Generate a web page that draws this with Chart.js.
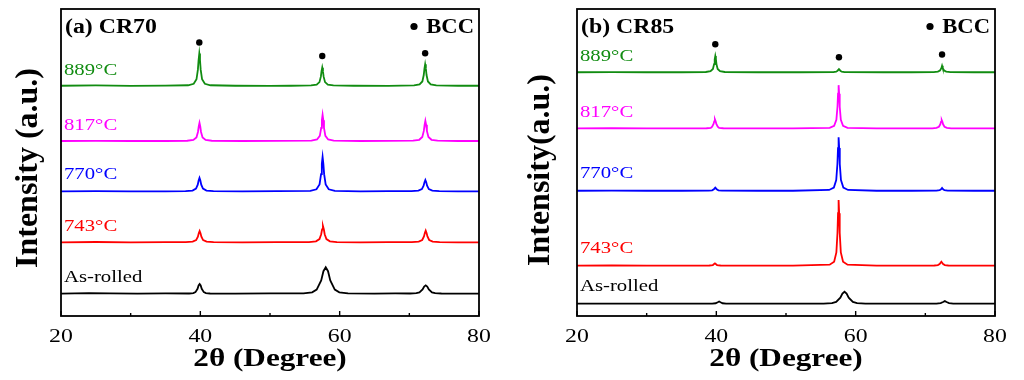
<!DOCTYPE html>
<html>
<head>
<meta charset="utf-8">
<script src="https://cdn.jsdelivr.net/npm/chart.js@4"></script>
<style>
  html, body { margin: 0; padding: 0; background: #fff; }
  #wrap { position: relative; width: 1024px; height: 380px; overflow: hidden; }
  .pane { position: absolute; top: 0; width: 512px; height: 380px; }
</style>
</head>
<body>
<div id="wrap">
  <div class="pane" style="left:0"><canvas id="c1" width="512" height="380"></canvas></div>
  <div class="pane" style="left:512px"><canvas id="c2" width="512" height="380"></canvas></div>
</div>
<script>
// ---------- DATA (2θ in degrees, intensity in stacked arbitrary units) ----------
const X_TICKS = [20, 40, 60, 80];
const X_MINOR = [30, 50, 70];
const SAMPLE_LABELS = ['As-rolled', '743°C', '770°C', '817°C', '889°C'];

// (a) CR70
const CR70_AS = [[20,7.3],[24,7.45],[27,7.4],[31,7.3],[35,7.35],[38.4,7.33],[39.0,7.46],[39.3,7.77],[39.6,8.85],[39.75,9.94],[39.9,10.4],[40.05,9.94],[40.2,8.85],[40.5,7.77],[40.8,7.46],[41.4,7.33],[45,7.3],[50,7.35],[54.8,7.39],[56.05,7.73],[56.7,8.6],[57.35,11.6],[57.67,14.6],[58.0,15.9],[58.33,14.6],[58.65,11.6],[59.3,8.6],[59.95,7.73],[61.2,7.39],[65,7.3],[68,7.35],[70.1,7.33],[71.0,7.44],[71.45,7.7],[71.9,8.65],[72.13,9.6],[72.35,10.0],[72.57,9.6],[72.8,8.65],[73.25,7.7],[73.7,7.44],[74.6,7.33],[77,7.3],[80,7.3]];
const CR70_743 = [[20,24.0],[25,24.1],[30,24.0],[35,24.05],[37.9,24.06],[38.9,24.22],[39.4,24.74],[39.65,25.85],[39.775,26.96],[39.9,27.7],[40.025,26.96],[40.15,25.85],[40.4,24.74],[40.9,24.22],[41.9,24.06],[46,24.0],[51,24.05],[55.6,24.08],[56.6,24.32],[57.1,25.06],[57.35,26.65],[57.475,28.24],[57.6,29.3],[57.725,28.24],[57.85,26.65],[58.1,25.06],[58.6,24.32],[59.6,24.08],[63,24.0],[67,24.05],[70.35,24.06],[71.35,24.23],[71.85,24.76],[72.1,25.9],[72.225,27.04],[72.35,27.8],[72.475,27.04],[72.6,25.9],[72.85,24.76],[73.35,24.23],[74.35,24.06],[77,24.0],[80,24.0]];
const CR70_770 = [[20,40.6],[25,40.65],[30,40.6],[35,40.6],[37.88,40.67],[38.88,40.86],[39.38,41.48],[39.63,42.8],[39.755,44.12],[39.88,45.0],[40.005,44.12],[40.13,42.8],[40.38,41.48],[40.88,40.86],[41.88,40.67],[46,40.6],[51,40.65],[55.79,40.77],[56.67,41.27],[57.11,42.84],[57.33,46.2],[57.44,49.56],[57.55,51.8],[57.66,49.56],[57.77,46.2],[57.99,42.84],[58.43,41.27],[59.31,40.77],[63,40.6],[67,40.65],[70.3,40.66],[71.3,40.82],[71.8,41.34],[72.05,42.45],[72.175,43.56],[72.3,44.3],[72.425,43.56],[72.55,42.45],[72.8,41.34],[73.3,40.82],[74.3,40.66],[77,40.6],[80,40.6]];
const CR70_817 = [[20,57.0],[25,57.05],[30,57.0],[35,57.0],[38.12,57.09],[39.0,57.35],[39.44,58.18],[39.66,59.95],[39.77,61.72],[39.88,62.9],[39.99,61.72],[40.1,59.95],[40.32,58.18],[40.76,57.35],[41.64,57.09],[46,57.0],[51,57.05],[55.95,57.13],[56.75,57.51],[57.15,58.7],[57.35,61.25],[57.45,63.8],[57.55,65.5],[57.65,63.8],[57.75,61.25],[57.95,58.7],[58.35,57.51],[59.15,57.13],[63,57.0],[67,57.05],[70.54,57.1],[71.42,57.4],[71.86,58.32],[72.08,60.3],[72.19,62.28],[72.3,63.6],[72.41,62.28],[72.52,60.3],[72.74,58.32],[73.18,57.4],[74.06,57.1],[77,57.0],[80,57.0]];
const CR70_889 = [[20,75.0],[25,75.1],[30,74.95],[35,75.05],[38.25,75.16],[39.05,75.63],[39.45,77.1],[39.65,80.25],[39.75,83.4],[39.85,85.5],[39.95,83.4],[40.05,80.25],[40.25,77.1],[40.65,75.63],[41.45,75.16],[45,75.0],[50,74.95],[53,75.0],[55.9,75.09],[56.7,75.35],[57.1,76.18],[57.3,77.95],[57.4,79.72],[57.5,80.9],[57.6,79.72],[57.7,77.95],[57.9,76.18],[58.3,75.35],[59.1,75.09],[62,75.0],[67,74.95],[70.67,75.1],[71.47,75.42],[71.87,76.4],[72.07,78.5],[72.17,80.6],[72.27,82.0],[72.37,80.6],[72.47,78.5],[72.67,76.4],[73.07,75.42],[73.87,75.1],[77,75.0],[80,75.0]];
const CR70_BCC = [[39.85,89.1],[57.5,84.7],[72.27,85.6]];

// (b) CR85
const CR85_AS = [[20,4.0],[25,4.05],[30,4.0],[35,4.0],[39.4,4.03],[39.9,4.15],[40.2,4.5],[40.4,4.75],[40.6,4.5],[40.9,4.15],[41.4,4.03],[46,4.0],[51,4.0],[55.4,4.04],[56.6,4.2],[57.2,4.6],[57.8,5.95],[58.1,7.3],[58.4,7.9],[58.7,7.3],[59.0,5.95],[59.6,4.6],[60.2,4.2],[61.4,4.04],[66,4.0],[71.6,4.05],[72.2,4.2],[72.55,4.55],[72.8,4.85],[73.05,4.55],[73.4,4.2],[74.0,4.05],[77,4.0],[80,4.0]];
const CR85_743 = [[20,16.4],[25,16.45],[30,16.4],[35,16.4],[39.0,16.45],[39.5,16.6],[39.8,17.15],[40.1,16.6],[40.6,16.45],[46,16.4],[51,16.4],[56.27,16.72],[56.91,17.68],[57.23,20.7],[57.39,27.1],[57.47,33.5],[57.55,37.8],[57.63,33.5],[57.71,27.1],[57.87,20.7],[58.19,17.68],[58.83,16.72],[63,16.4],[67,16.4],[71.3,16.45],[71.8,16.6],[72.05,16.95],[72.3,17.7],[72.55,16.95],[72.8,16.6],[73.3,16.45],[77,16.4],[80,16.4]];
const CR85_770 = [[20,40.8],[25,40.85],[30,40.8],[35,40.8],[38.9,40.85],[39.4,40.95],[39.65,41.3],[39.85,41.8],[40.05,41.3],[40.3,40.95],[40.8,40.85],[46,40.8],[51,40.8],[56.19,41.06],[56.87,41.84],[57.21,44.3],[57.38,49.5],[57.465,54.7],[57.55,58.2],[57.635,54.7],[57.72,49.5],[57.89,44.3],[58.23,41.84],[58.91,41.06],[63,40.8],[68,40.8],[71.6,40.85],[72.05,41.0],[72.25,41.3],[72.4,41.7],[72.55,41.3],[72.75,41.0],[73.2,40.85],[77,40.8],[80,40.8]];
const CR85_817 = [[20,61.1],[25,61.15],[30,61.1],[35,61.1],[38.6,61.15],[39.2,61.3],[39.4,61.7],[39.6,62.55],[39.7,63.4],[39.8,64.0],[39.9,63.4],[40.0,62.55],[40.2,61.7],[40.4,61.3],[41.0,61.15],[46,61.1],[51,61.1],[56.27,61.31],[56.91,61.95],[57.23,63.9],[57.39,68.15],[57.47,72.4],[57.55,75.2],[57.63,72.4],[57.71,68.15],[57.87,63.9],[58.19,61.95],[58.83,61.31],[63,61.1],[67,61.1],[71.0,61.14],[71.6,61.3],[71.95,61.65],[72.15,62.45],[72.25,63.25],[72.35,63.8],[72.45,63.25],[72.55,62.45],[72.75,61.65],[73.1,61.3],[73.7,61.14],[77,61.1],[80,61.1]];
const CR85_889 = [[20,79.4],[25,79.45],[30,79.4],[35,79.4],[38.49,79.48],[39.17,79.72],[39.51,80.46],[39.68,82.05],[39.765,83.64],[39.85,84.7],[39.935,83.64],[40.02,82.05],[40.19,80.46],[40.53,79.72],[41.21,79.48],[46,79.4],[52,79.4],[56.8,79.45],[57.2,79.6],[57.4,79.9],[57.6,80.4],[57.8,79.9],[58.0,79.6],[58.4,79.45],[64,79.4],[68,79.4],[71.2,79.45],[71.8,79.6],[72.1,79.95],[72.3,80.7],[72.4,81.5],[72.5,80.7],[72.7,79.95],[73.0,79.6],[73.6,79.45],[77,79.4],[80,79.4]];
const CR85_BCC = [[39.85,88.5],[57.6,84.3],[72.4,85.2]];

// ---------- STYLE ----------
const COLORS = ['#000000', '#ff0000', '#0000ff', '#ff00ff', '#118c11'];
const SERIF = '"Liberation Serif", "Times New Roman", serif';

function pts(a) { return a.map(p => ({ x: p[0], y: p[1] })); }

function txt(ctx, s, x, y, font, color, align, sx, rot) {
  ctx.save();
  ctx.translate(x, y);
  if (rot) ctx.rotate(rot);
  ctx.scale(sx || 1, 1);
  ctx.font = font;
  ctx.fillStyle = color;
  ctx.textAlign = align || 'left';
  ctx.textBaseline = 'alphabetic';
  ctx.fillText(s, 0, 0);
  ctx.restore();
}

function makeChart(canvasId, series, bcc, cfg) {
  const datasets = series.map((s, i) => ({
    type: 'line',
    data: pts(s),
    borderColor: COLORS[i],
    borderWidth: 1.8,
    pointRadius: 0,
    tension: 0,
    fill: false
  }));
  datasets.push({
    type: 'scatter',
    data: pts(bcc),
    pointRadius: 3.2,
    pointBackgroundColor: '#000',
    pointBorderWidth: 0,
    showLine: false
  });

  const decor = {
    id: 'decor',
    afterDraw(chart) {
      const ctx = chart.ctx;
      const a = chart.chartArea;
      const xs = chart.scales.x;
      ctx.save();
      ctx.strokeStyle = '#000';
      ctx.lineWidth = 1.8;
      ctx.strokeRect(a.left, a.top, a.right - a.left, a.bottom - a.top);
      ctx.lineWidth = 1.4;
      X_TICKS.forEach(v => {
        const px = xs.getPixelForValue(v);
        ctx.beginPath(); ctx.moveTo(px, a.bottom); ctx.lineTo(px, a.bottom - 5); ctx.stroke();
      });
      X_MINOR.forEach(v => {
        const px = xs.getPixelForValue(v);
        ctx.beginPath(); ctx.moveTo(px, a.bottom); ctx.lineTo(px, a.bottom - 3); ctx.stroke();
      });
      ctx.restore();
      X_TICKS.forEach(v => {
        txt(ctx, String(v), xs.getPixelForValue(v), 341.5, '19.5px ' + SERIF, '#000', 'center', 1.22);
      });
      txt(ctx, '2θ (Degree)', (a.left + a.right) / 2, 366, 'bold 26px ' + SERIF, '#000', 'center', 1.2);
      txt(ctx, cfg.yTitle, cfg.yTitleX, cfg.yTitleY, 'bold 32px ' + SERIF, '#000', 'center', 1.0, -Math.PI / 2);
      txt(ctx, cfg.title, a.left + 4, 33, 'bold 20px ' + SERIF, '#000', 'left', 1.19);
      ctx.save();
      ctx.fillStyle = '#000';
      ctx.beginPath(); ctx.arc(cfg.bccDotX, 26.5, 3.6, 0, Math.PI * 2); ctx.fill();
      ctx.restore();
      txt(ctx, 'BCC', a.right - 5, 33, 'bold 20px ' + SERIF, '#000', 'right', 1.13);
      SAMPLE_LABELS.forEach((lab, i) => {
        txt(ctx, lab, a.left + 3, cfg.labelY[i], '17px ' + SERIF, COLORS[i], 'left', 1.22);
      });
    }
  };

  return new Chart(document.getElementById(canvasId), {
    data: { datasets },
    options: {
      responsive: false,
      animation: false,
      devicePixelRatio: 1,
      layout: { padding: cfg.padding },
      plugins: { legend: { display: false }, tooltip: { enabled: false } },
      scales: {
        x: { type: 'linear', min: 20, max: 80, display: false },
        y: { type: 'linear', min: 0, max: 100, display: false }
      }
    },
    plugins: [decor]
  });
}

makeChart('c1', [CR70_AS, CR70_743, CR70_770, CR70_817, CR70_889], CR70_BCC, {
  padding: { left: 61, right: 33, top: 9, bottom: 64 },
  title: '(a) CR70',
  yTitle: 'Intensity (a.u.)',
  yTitleX: 37, yTitleY: 168,
  bccDotX: 414,
  labelY: [282.3, 231.3, 179, 130, 74.6]
});

makeChart('c2', [CR85_AS, CR85_743, CR85_770, CR85_817, CR85_889], CR85_BCC, {
  padding: { left: 65, right: 29, top: 9, bottom: 64 },
  title: '(b) CR85',
  yTitle: 'Intensity(a.u.)',
  yTitleX: 37, yTitleY: 170,
  bccDotX: 418,
  labelY: [291.3, 253.3, 178.3, 116.6, 60.6]
});
</script>
</body>
</html>
